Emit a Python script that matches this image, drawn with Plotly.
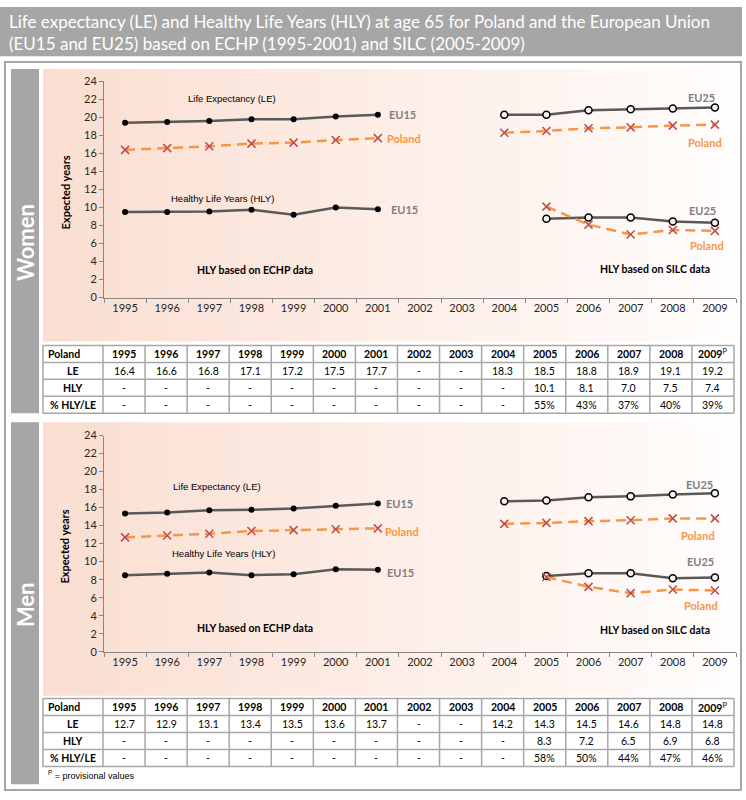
import plotly.graph_objects as go

# ---------------- data ----------------
years = [str(y) for y in range(1995, 2010)]

# Women
w_le_eu15 = [19.4, 19.5, 19.6, 19.8, 19.8, 20.1, 20.3, None, None, None, None, None, None, None, None]
w_le_eu25 = [None, None, None, None, None, None, None, None, None, 20.3, 20.3, 20.8, 20.9, 21.0, 21.1]
w_le_pl = [16.4, 16.6, 16.8, 17.1, 17.2, 17.5, 17.7, None, None, 18.3, 18.5, 18.8, 18.9, 19.1, 19.2]
w_hly_eu15 = [9.5, 9.5, 9.55, 9.75, 9.2, 10.0, 9.8, None, None, None, None, None, None, None, None]
w_hly_eu25 = [None, None, None, None, None, None, None, None, None, None, 8.75, 8.9, 8.9, 8.45, 8.3]
w_hly_pl = [None, None, None, None, None, None, None, None, None, None, 10.1, 8.1, 7.0, 7.5, 7.4]
w_pct = ["-"] * 10 + ["55%", "43%", "37%", "40%", "39%"]

# Men
m_le_eu15 = [15.35, 15.45, 15.7, 15.75, 15.9, 16.2, 16.45, None, None, None, None, None, None, None, None]
m_le_eu25 = [None, None, None, None, None, None, None, None, None, 16.7, 16.8, 17.15, 17.25, 17.45, 17.6]
m_le_pl = [12.7, 12.9, 13.1, 13.4, 13.5, 13.6, 13.7, None, None, 14.2, 14.3, 14.5, 14.6, 14.8, 14.8]
m_hly_eu15 = [8.5, 8.65, 8.8, 8.5, 8.6, 9.15, 9.1, None, None, None, None, None, None, None, None]
m_hly_eu25 = [None, None, None, None, None, None, None, None, None, None, 8.4, 8.7, 8.7, 8.15, 8.25]
m_hly_pl = [None, None, None, None, None, None, None, None, None, None, 8.3, 7.2, 6.5, 6.9, 6.8]
m_pct = ["-"] * 10 + ["58%", "50%", "44%", "47%", "46%"]

row_labels = ["LE", "HLY", "% HLY/LE"]
title_text = ("Life expectancy (LE) and Healthy Life Years (HLY) at age 65 for Poland and the European Union<br>"
              "(EU15 and EU25) based on ECHP (1995-2001) and SILC (2005-2009)")

# ---------------- helpers ----------------
W, H = 746, 800
def px(x):
    return x / W
def py(y):
    return 1 - y / H

FONT = "Lato"
GRAY_LINE = "#595959"
ORANGE = "#F79646"
XRED = "#C0504D"
LABEL_GRAY = "#7F7F7F"
FRAME = "#A6A6A6"

fig = go.Figure()
shapes = []
annotations = []

def note(x, y, text, size, color="black", family=FONT, xanchor="center", angle=0, align="center"):
    annotations.append(dict(xref="paper", yref="paper", x=px(x), y=py(y), xanchor=xanchor,
                            yanchor="middle", text=text, showarrow=False, textangle=angle,
                            align=align, font=dict(family=family, size=size, color=color)))

# Title banner
shapes.append(dict(type="rect", xref="paper", yref="paper", x0=px(0), x1=px(742), y0=py(50), y1=py(0),
                   fillcolor="#A6A6A6", line=dict(width=0), layer="below"))
note(7, 25.5, title_text, 17, color="white", xanchor="left", align="left")

# Outer frame
shapes.append(dict(type="rect", xref="paper", yref="paper", x0=px(5), x1=px(741), y0=py(796), y1=py(56),
                   fillcolor="rgba(0,0,0,0)", line=dict(color=FRAME, width=2), layer="below"))

def gradient(y_top, y_bot, x_left=43, x_right=737, n=90):
    c0 = (250, 222, 209)
    c1 = (255, 253, 252)
    step = (x_right - x_left) / n
    for i in range(n):
        t = i / (n - 1)
        c = tuple(round(c0[k] + (c1[k] - c0[k]) * t) for k in range(3))
        shapes.append(dict(type="rect", xref="paper", yref="paper",
                           x0=px(x_left + i * step), x1=px(x_left + (i + 1) * step + 0.6),
                           y0=py(y_bot), y1=py(y_top),
                           fillcolor="rgb(%d,%d,%d)" % c, line=dict(width=0), layer="below"))

def hline(x0, x1, y):
    shapes.append(dict(type="line", xref="paper", yref="paper", x0=px(x0), x1=px(x1), y0=py(y), y1=py(y),
                       line=dict(color=FRAME, width=1.5)))
def vline(x, y0, y1):
    shapes.append(dict(type="line", xref="paper", yref="paper", x0=px(x), x1=px(x), y0=py(y0), y1=py(y1),
                       line=dict(color=FRAME, width=1.5)))

sections = [
    dict(name="Women", top=63, chart_bot=340, side_bot=413, ax_top=75.67, ax_bot=295.33,
         tbl_top=344, xa="x", ya="y", le_eu15=w_le_eu15, le_eu25=w_le_eu25, le_pl=w_le_pl,
         hly_eu15=w_hly_eu15, hly_eu25=w_hly_eu25, hly_pl=w_hly_pl, pct=w_pct,
         le_txt=(232, 93), hly_txt=(223, 195), echp=(255, 267), silc=(655, 266),
         shifts=dict(le15=(9, 0), lepl=(7, 0), hly15=(11, 0), le25=(2, 10), lepl25=(9, -18),
                     hly25=(3, 12), hlypl=(11, -15))),
    dict(name="Men", top=422, chart_bot=700, side_bot=790, ax_top=435.67, ax_bot=655.33,
         tbl_top=703, xa="x2", ya="y2", le_eu15=m_le_eu15, le_eu25=m_le_eu25, le_pl=m_le_pl,
         hly_eu15=m_hly_eu15, hly_eu25=m_hly_eu25, hly_pl=m_hly_pl, pct=m_pct,
         le_txt=(217, 487), hly_txt=(224, 556), echp=(255, 631), silc=(655, 633),
         shifts=dict(le15=(6, 0), lepl=(5, -3), hly15=(7, -3), le25=(0, 9), lepl25=(2, -17),
                     hly25=(1, 16), hlypl=(5, -15))),
]

TBL_X0, TBL_C1, TBL_X1 = 43, 103, 734
COLW = (TBL_X1 - TBL_C1) / 15
RH = 17.25

layout_axes = {}
for idx, s in enumerate(sections):
    gradient(s["top"], s["chart_bot"])
    # side bar
    shapes.append(dict(type="rect", xref="paper", yref="paper", x0=px(11), x1=px(39),
                       y0=py(s["side_bot"]), y1=py(s["top"]), fillcolor="#A6A6A6",
                       line=dict(width=0), layer="below"))
    note(25, (s["top"] + s["side_bot"]) / 2 + 2, "<b>%s</b>" % s["name"], 22, color="white", angle=-90)
    # y-axis title
    note(65, (s["ax_top"] + s["ax_bot"]) / 2 + 3, "<b>Expected years</b>", 11, angle=-90)

    xa, ya = s["xa"], s["ya"]
    def add_eu(vals, filled):
        fig.add_trace(go.Scatter(
            x=years, y=vals, xaxis=xa, yaxis=ya, mode="lines+markers", connectgaps=False,
            line=dict(color=GRAY_LINE, width=2.5),
            marker=dict(symbol="circle", size=6 if filled else 7,
                        color="black" if filled else "#F4F1EF",
                        line=dict(color="black", width=0 if filled else 1.5)),
            showlegend=False, hoverinfo="skip"))
    def add_pl(vals):
        fig.add_trace(go.Scatter(
            x=years, y=vals, xaxis=xa, yaxis=ya, mode="lines+markers", connectgaps=False,
            line=dict(color=ORANGE, width=2.5, dash="10px,6px"),
            marker=dict(symbol="x-thin", size=8, line=dict(color=XRED, width=1.6)),
            showlegend=False, hoverinfo="skip"))
    add_eu(s["le_eu15"], True)
    add_eu(s["le_eu25"], False)
    add_eu(s["hly_eu15"], True)
    add_eu(s["hly_eu25"], False)
    add_pl(s["le_pl"])
    add_pl(s["hly_pl"])

    # series labels (x given as category index)
    sh = s["shifts"]
    def lab(text, i, val, color, anchor, shift):
        annotations.append(dict(xref=xa, yref=ya, x=i, y=val, text="<b>%s</b>" % text,
                                showarrow=False, xanchor=anchor, yanchor="middle",
                                xshift=shift[0], yshift=shift[1],
                                font=dict(family=FONT, size=11, color=color)))
    lab("EU15", 6, s["le_eu15"][6], LABEL_GRAY, "left", sh["le15"])
    lab("Poland", 6, s["le_pl"][6], ORANGE, "left", sh["lepl"])
    lab("EU15", 6, s["hly_eu15"][6], LABEL_GRAY, "left", sh["hly15"])
    lab("EU25", 14, s["le_eu25"][14], LABEL_GRAY, "right", sh["le25"])
    lab("Poland", 14, s["le_pl"][14], ORANGE, "right", sh["lepl25"])
    lab("EU25", 14, s["hly_eu25"][14], LABEL_GRAY, "right", sh["hly25"])
    lab("Poland", 14, s["hly_pl"][14], ORANGE, "right", sh["hlypl"])

    note(s["le_txt"][0], s["le_txt"][1], "Life Expectancy (LE)", 9.5, family="Liberation Sans")
    note(s["hly_txt"][0], s["hly_txt"][1], "Healthy Life Years (HLY)", 9.5, family="Liberation Sans")
    note(s["echp"][0], s["echp"][1], "<b>HLY based on ECHP data</b>", 10.5)
    note(s["silc"][0], s["silc"][1], "<b>HLY based on SILC data</b>", 10.5)

    xkey = "xaxis" if idx == 0 else "xaxis2"
    ykey = "yaxis" if idx == 0 else "yaxis2"
    layout_axes[xkey] = dict(domain=[px(104), px(736)], anchor=ya, type="category",
                             categoryorder="array", categoryarray=years, range=[-0.5, 14.5],
                             tickson="boundaries", ticks="outside", ticklen=4, tickcolor="#868686",
                             showline=True, linecolor="#868686", linewidth=1, showgrid=False,
                             zeroline=False, tickfont=dict(family=FONT, size=11, color="#262626"),
                             fixedrange=True)
    layout_axes[ykey] = dict(domain=[py(s["ax_bot"]), py(s["ax_top"])], anchor=xa, range=[0, 24],
                             dtick=2, tick0=0, ticks="outside", ticklen=4, tickcolor="#868686",
                             showline=True, linecolor="#868686", linewidth=1, showgrid=False,
                             zeroline=False, tickfont=dict(family=FONT, size=11, color="#262626"),
                             fixedrange=True)

    # ---- table (drawn with shapes + text) ----
    t0 = s["tbl_top"]
    t1 = t0 + 4 * RH
    shapes.append(dict(type="rect", xref="paper", yref="paper", x0=px(TBL_X0), x1=px(TBL_X1),
                       y0=py(t1), y1=py(t0), fillcolor="white", line=dict(width=0)))
    for r in range(5):
        hline(TBL_X0, TBL_X1, t0 + r * RH)
    vline(TBL_X0, t0, t1)
    for c in range(16):
        vline(TBL_C1 + c * COLW, t0, t1)
    # header
    note(TBL_X0 + 3, t0 + RH / 2, "<b>Poland</b>", 10.5, xanchor="left")
    for i, y in enumerate(years):
        txt = "<b>%s</b>" % y if i < 14 else "<b>%s</b><sup>P</sup>" % y
        note(TBL_C1 + (i + 0.5) * COLW, t0 + RH / 2, txt, 10.5)
    def fmt(v):
        return "-" if v is None else "%.1f" % v
    rows = [[fmt(v) for v in s["le_pl"]], [fmt(v) for v in s["hly_pl"]], s["pct"]]
    for r, (lbl, vals) in enumerate(zip(row_labels, rows)):
        yc = t0 + (r + 1.5) * RH
        note((TBL_X0 + TBL_C1) / 2, yc, "<b>%s</b>" % lbl, 10.5)
        for i, v in enumerate(vals):
            note(TBL_C1 + (i + 0.5) * COLW, yc, v, 10.5)

note(46, 781, "<sup>P</sup> = provisional values", 9, family="Liberation Sans", xanchor="left")

fig.update_layout(width=W, height=H, margin=dict(l=0, r=0, t=0, b=0),
                  paper_bgcolor="white", plot_bgcolor="rgba(0,0,0,0)",
                  shapes=shapes, annotations=annotations, showlegend=False, **layout_axes)

fig.write_html("out.html", config={"displayModeBar": False},
               post_script="document.body.style.margin='0px';document.body.style.overflow='hidden';")
